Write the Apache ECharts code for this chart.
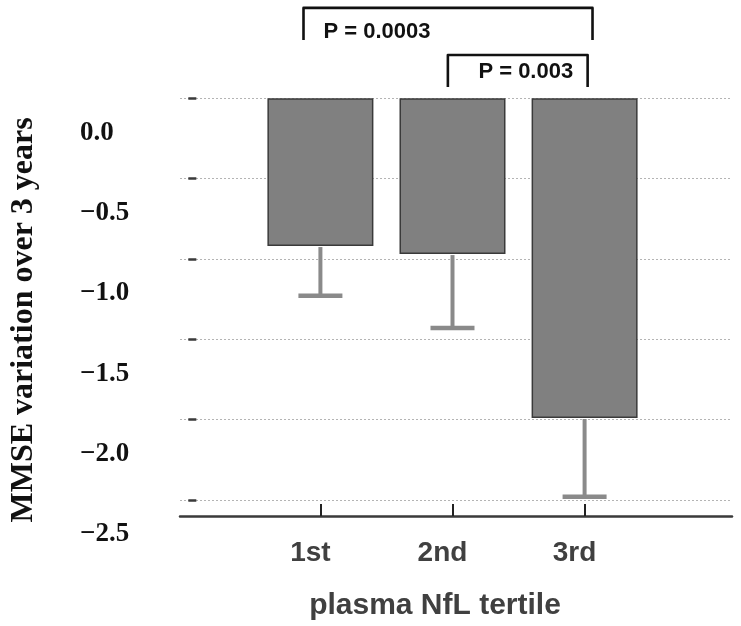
<!DOCTYPE html>
<html>
<head>
<meta charset="utf-8">
<script src="https://cdn.jsdelivr.net/npm/echarts@6/dist/echarts.min.js"></script>
<style>
html,body{margin:0;padding:0;background:#fff;}
#chart{width:741px;height:626px;}
</style>
</head>
<body>
<div id="chart"></div>
<script>
// ---- data ----
const categories = ['1st', '2nd', '3rd'];
const categoryPos = [1, 2, 3];
const meanChange = [-0.92, -0.97, -1.99];
const errorLow = [-1.23, -1.43, -2.48];
const yTicks = [0, -0.5, -1.0, -1.5, -2.0, -2.5];

// significance annotations (data units)
const pLabels = ['P = 0.0003', 'P = 0.003'];
const bracketFrom = [0.872, 1.965];
const bracketTo = [3.06, 3.023];
const bracketTop = [0.562, 0.269];
const bracketLeg = [0.363, 0.070];
const pLabelX = [1.023, 2.196];
const pLabelY = [0.412, 0.164];

const chart = echarts.init(document.getElementById('chart'), null, {renderer: 'canvas'});

function fmtY(v) {
  const s = Math.abs(v).toFixed(1);
  return v < 0 ? '\u2212' + s : s;
}

const option = {
  animation: false,
  backgroundColor: '#ffffff',
  grid: {left: 178, right: 9, top: 1.8, bottom: 109.6, containLabel: false},
  xAxis: {
    type: 'value',
    min: -0.063,
    max: 4.116,
    axisLine: {show: true, onZero: false, lineStyle: {color: '#3a3a3a', width: 2.5}},
    axisTick: {show: true, inside: true, length: 12, customValues: categoryPos,
      lineStyle: {color: '#222', width: 2}},
    axisLabel: {
      customValues: categoryPos,
      formatter: v => categories[categoryPos.indexOf(v)] || '',
      margin: 23,
      fontFamily: 'Liberation Sans', fontWeight: 'bold', fontSize: 28, color: '#404040',
      padding: [0, 20, 0, 0]
    },
    splitLine: {show: false},
    name: 'plasma NfL tertile',
    nameLocation: 'middle',
    nameGap: 75,
    nameTextStyle: {fontFamily: 'Liberation Sans', fontWeight: 'bold', fontSize: 30,
      color: '#404040', padding: [0, 42, 0, 0]}
  },
  yAxis: {
    type: 'value',
    min: -2.6,
    max: 0.6,
    axisLine: {show: false},
    axisTick: {show: true, inside: true, length: 8, customValues: yTicks,
      lineStyle: {color: '#3a3a3a', width: 2.5}},
    axisLabel: {
      customValues: yTicks,
      formatter: fmtY,
      margin: 100,
      align: 'left',
      verticalAlign: 'top',
      lineHeight: 69,
      fontFamily: 'Liberation Serif', fontWeight: 'bold', fontSize: 27, color: '#111'
    },
    splitLine: {show: true, lineStyle: {color: '#b4b4b4', width: 1, type: [2, 2]}},
    name: 'MMSE variation over 3 years',
    nameLocation: 'middle',
    nameRotate: 90,
    nameGap: 140,
    nameTextStyle: {fontFamily: 'Liberation Serif', fontWeight: 'bold', fontSize: 32,
      color: '#111', padding: [0, 122, 0, 0]}
  },
  series: [
    {
      type: 'bar',
      barWidth: 106,
      data: categoryPos.map((x, i) => [x, meanChange[i]]),
      itemStyle: {color: '#808080', borderColor: '#3a3a3a', borderWidth: 1.5},
      z: 3
    },
    {
      type: 'custom',
      z: 4,
      data: categoryPos.map((x, i) => [x, meanChange[i], errorLow[i]]),
      renderItem: function (params, api) {
        const x = api.value(0);
        const p1 = api.coord([x, api.value(1)]);
        const p2 = api.coord([x, api.value(2)]);
        return {
          type: 'group',
          children: [
            {type: 'line', shape: {x1: p1[0], y1: p1[1] + 1, x2: p2[0], y2: p2[1]},
              style: {stroke: '#8a8a8a', lineWidth: 4}},
            {type: 'line', shape: {x1: p2[0] - 22, y1: p2[1], x2: p2[0] + 22, y2: p2[1]},
              style: {stroke: '#8a8a8a', lineWidth: 4.5}}
          ]
        };
      }
    },
    {
      type: 'custom',
      z: 5,
      data: pLabels.map((t, i) => [bracketFrom[i], bracketTop[i]]),
      renderItem: function (params, api) {
        const i = params.dataIndex;
        const a = api.coord([bracketFrom[i], bracketLeg[i]]);
        const b = api.coord([bracketFrom[i], bracketTop[i]]);
        const c = api.coord([bracketTo[i], bracketTop[i]]);
        const d = api.coord([bracketTo[i], bracketLeg[i]]);
        const tp = api.coord([pLabelX[i], pLabelY[i]]);
        return {
          type: 'group',
          children: [
            {type: 'polyline', shape: {points: [a, b, c, d]},
              style: {stroke: '#111', lineWidth: 2.6, fill: null, lineJoin: 'round'}},
            {type: 'text', x: tp[0], y: tp[1],
              style: {text: pLabels[i], fill: '#111', align: 'left', verticalAlign: 'middle',
                font: 'bold 22px "Liberation Sans"'}}
          ]
        };
      }
    }
  ]
};
chart.setOption(option);
</script>
</body>
</html>
